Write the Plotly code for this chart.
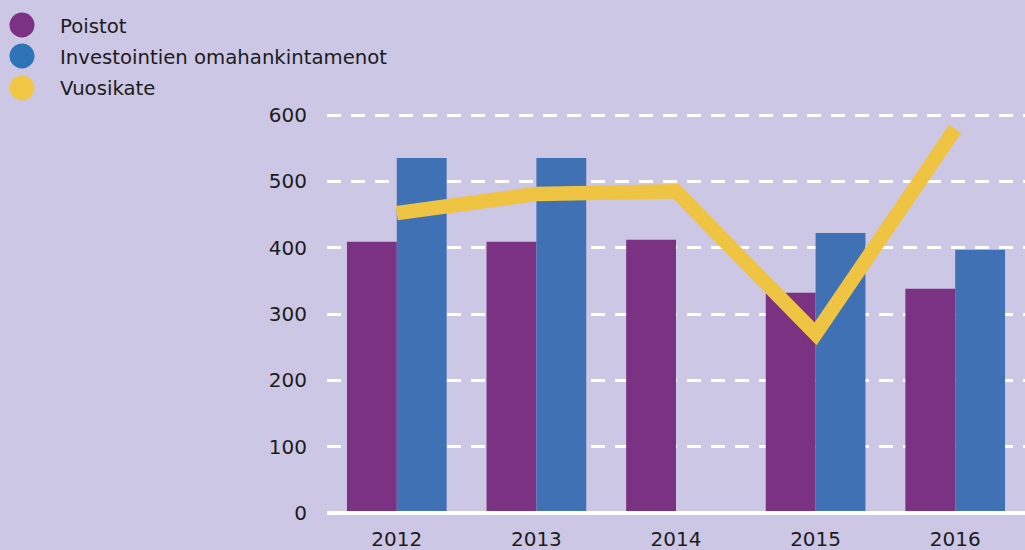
import plotly.graph_objects as go

years = ["2012", "2013", "2014", "2015", "2016"]
poistot = [409, 409, 412, 332, 338]
investoinnit = [535, 535, None, 422, 397]
vuosikate = [452, 481, 485, 270, 579]
series_names = ["Poistot", "Investointien omahankintamenot", "Vuosikate"]
y_ticks = [0, 100, 200, 300, 400, 500, 600]

BG = "#ccc7e4"
PURPLE = "#7b3282"
BLUE = "#3f71b4"
YELLOW = "#efc443"
LEGEND_COLORS = ["#7b3282", "#2e74b7", "#f1c746"]
TEXT = "#1c1c1c"

W, H = 1025, 550
ML, MR, MT, MB = 327, 0, 112, 37
PW, PH = W - ML - MR, H - MT - MB
Y_TOP = PH / (398 / 600)   # keep 600 units = 398 px

def px_x(px):
    return (px - ML) / PW

def px_y(py):
    return (H - MB - py) / PH

fig = go.Figure()
fig.add_trace(go.Bar(x=years, y=poistot, name=series_names[0],
                     marker=dict(color=PURPLE, line=dict(width=0))))
fig.add_trace(go.Bar(x=years, y=investoinnit, name=series_names[1],
                     marker=dict(color=BLUE, line=dict(width=0))))
fig.add_trace(go.Scatter(x=years, y=vuosikate, name=series_names[2], mode="lines",
                         line=dict(color=YELLOW, width=14.5)))

shapes = []
annotations = []
legend_px_y = [25, 56, 88]
for name, col, py in zip(series_names, LEGEND_COLORS, legend_px_y):
    shapes.append(dict(type="circle", xref="paper", yref="paper",
                       xsizemode="pixel", ysizemode="pixel",
                       xanchor=px_x(22), yanchor=px_y(py),
                       x0=-12.5, x1=12.5, y0=-12.5, y1=12.5,
                       fillcolor=col, line=dict(width=0)))
    annotations.append(dict(text=name, xref="paper", yref="paper",
                            x=px_x(58), y=px_y(py + 1), xanchor="left", yanchor="middle",
                            showarrow=False,
                            font=dict(family="DejaVu Sans", size=19.7, color=TEXT)))

# solid white baseline (4 px)
shapes.append(dict(type="rect", xref="paper", yref="paper", x0=0, x1=1,
                   ysizemode="pixel", yanchor=0, y0=-2, y1=2,
                   fillcolor="white", line=dict(width=0), layer="above"))

fig.update_layout(
    width=W, height=H,
    margin=dict(l=ML, r=MR, t=MT, b=MB, autoexpand=False),
    paper_bgcolor=BG, plot_bgcolor=BG,
    barmode="group", bargap=0.286, bargroupgap=0,
    showlegend=False,
    shapes=shapes, annotations=annotations,
    xaxis=dict(type="category", range=[-0.5, 4.5], showgrid=False, zeroline=False,
               showline=False, ticks="", ticklabelstandoff=12, automargin=False,
               tickfont=dict(family="DejaVu Sans", size=20, color=TEXT)),
    yaxis=dict(range=[0, Y_TOP], tickvals=y_ticks, showgrid=True, gridcolor="white",
               gridwidth=3, griddash="14px,10px", zeroline=False, showline=False,
               ticks="", ticklabelstandoff=19, automargin=False,
               tickfont=dict(family="DejaVu Sans", size=20, color=TEXT)),
)

fig.write_html("out.html", config={"displayModeBar": False},
               post_script="document.body.style.margin='0';")
